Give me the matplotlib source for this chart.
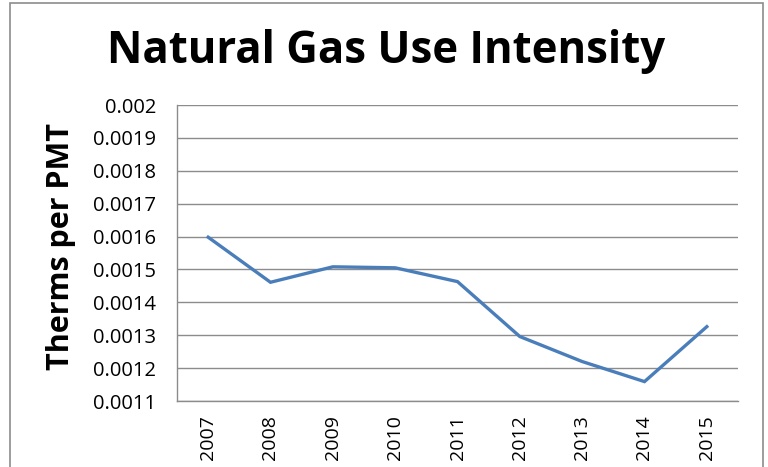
import matplotlib
matplotlib.use("Agg")
import numpy as np
from matplotlib import pyplot as plt
from matplotlib.patches import Rectangle

years = ["2007", "2008", "2009", "2010", "2011", "2012", "2013", "2014", "2015"]
therms_per_pmt = [0.001598, 0.001461, 0.001508, 0.001505, 0.001463,
                  0.001296, 0.001220, 0.001159, 0.001326]
y_ticks = [0.0011, 0.0012, 0.0013, 0.0014, 0.0015, 0.0016, 0.0017, 0.0018, 0.0019, 0.002]
y_tick_labels = ["0.0011", "0.0012", "0.0013", "0.0014", "0.0015",
                 "0.0016", "0.0017", "0.0018", "0.0019", "0.002"]

plt.rcParams["font.family"] = ["Open Sans", "DejaVu Sans"]

fig = plt.figure(figsize=(7.68, 4.67), dpi=100)
ax = fig.add_axes([177 / 768, 1 - 401 / 467, (738 - 177) / 768, (401 - 105) / 467])

# outer chart border
fig.patches.append(Rectangle((10 / 768, -0.02), (763 - 10) / 768, 1 - 3 / 467 + 0.02,
                             transform=fig.transFigure, fill=False,
                             edgecolor="#8c8c8c", linewidth=1.2))

x = np.arange(len(years))
ax.plot(x, therms_per_pmt, color="#4a7ebb", linewidth=2.4, solid_joinstyle="miter")

ax.set_xlim(-0.5, len(years) - 0.5)
ax.set_ylim(0.0011, 0.002)
ax.set_yticks(y_ticks)
ax.set_yticklabels(y_tick_labels, fontsize=14.5)
ax.set_xticks(x)
ax.set_xticklabels(years, rotation=90, fontsize=14)
ax.tick_params(axis="y", length=0, pad=15)
ax.tick_params(axis="x", length=0, pad=10)
ax.yaxis.grid(True, color="#8c8c8c", linewidth=1)
ax.set_axisbelow(True)
for side in ["top", "right"]:
    ax.spines[side].set_visible(False)
for side in ["left", "bottom"]:
    ax.spines[side].set_color("#8c8c8c")
    ax.spines[side].set_linewidth(1)

fig.text(61 / 768, 1 - 247 / 467, "Therms per PMT", rotation=90, ha="center", va="center",
         fontsize=22, fontweight="bold")
fig.text(386 / 768, 1 - 63 / 467, "Natural Gas Use Intensity", ha="center", va="baseline",
         fontsize=31.5, fontweight="bold")

plt.savefig("out.png", dpi=100)
